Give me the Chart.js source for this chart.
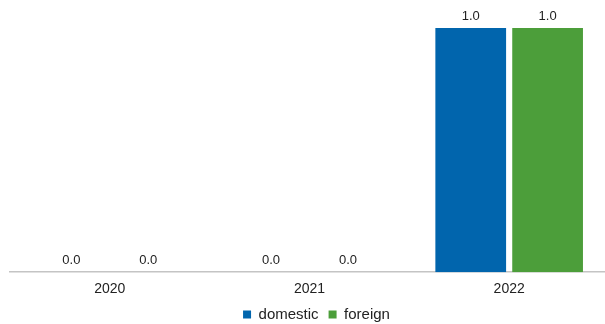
<!DOCTYPE html>
<html>
<head>
<meta charset="utf-8">
<script src="https://cdn.jsdelivr.net/npm/chart.js@4/dist/chart.umd.min.js"></script>
<style>
html,body{margin:0;padding:0;background:#fff;overflow:hidden;}
#wrap{position:absolute;left:0;top:0;width:619px;height:342px;}
</style>
</head>
<body>
<div id="wrap"><canvas id="c"></canvas></div>
<script>
const categories = ['2020', '2021', '2022'];
const domestic = [0, 0, 1];
const foreign = [0, 0, 1];
const seriesNames = ['domestic', 'foreign'];

const valueLabels = {
  id: 'valueLabels',
  afterDatasetsDraw(chart) {
    const ctx = chart.ctx;
    ctx.save();
    ctx.font = '13px "Liberation Sans", Arial, sans-serif';
    ctx.fillStyle = '#222';
    ctx.textAlign = 'center';
    ctx.textBaseline = 'alphabetic';
    chart.data.datasets.forEach((ds, i) => {
      const meta = chart.getDatasetMeta(i);
      meta.data.forEach((el, j) => {
        ctx.fillText(Number(ds.data[j]).toFixed(1), el.x, el.y - 8);
      });
    });
    ctx.restore();
  }
};

const legendShift = {
  id: 'legendShift',
  afterLayout(chart) {
    const lg = chart.legend;
    if (!lg) return;
    lg.left += 7; lg.right += 7;
    lg.top -= 10; lg.bottom -= 10;
  }
};

new Chart(document.getElementById('c'), {
  type: 'bar',
  data: {
    labels: categories,
    datasets: [
      { label: seriesNames[0], data: domestic, backgroundColor: '#0165ad', categoryPercentage: 0.77, barPercentage: 0.92 },
      { label: seriesNames[1], data: foreign, backgroundColor: '#4c9e3a', categoryPercentage: 0.77, barPercentage: 0.92 }
    ]
  },
  options: {
    responsive: true,
    maintainAspectRatio: false,
    animation: false,
    layout: { padding: { top: 28, left: 10, right: 10, bottom: 0 } },
    scales: {
      x: {
        grid: { display: false, drawTicks: false },
        border: { display: true, color: '#c4c4c4', width: 1.5 },
        ticks: { color: '#222', font: { size: 14, family: '"Liberation Sans", Arial, sans-serif' }, padding: 9 }
      },
      y: { display: false, min: 0, max: 1 }
    },
    plugins: {
      legend: {
        position: 'bottom',
        labels: {
          boxWidth: 8, boxHeight: 8,
          color: '#222',
          font: { size: 15, family: '"Liberation Sans", Arial, sans-serif' },
          padding: 10
        }
      },
      tooltip: { enabled: false }
    }
  },
  plugins: [valueLabels, legendShift]
});
</script>
</body>
</html>
